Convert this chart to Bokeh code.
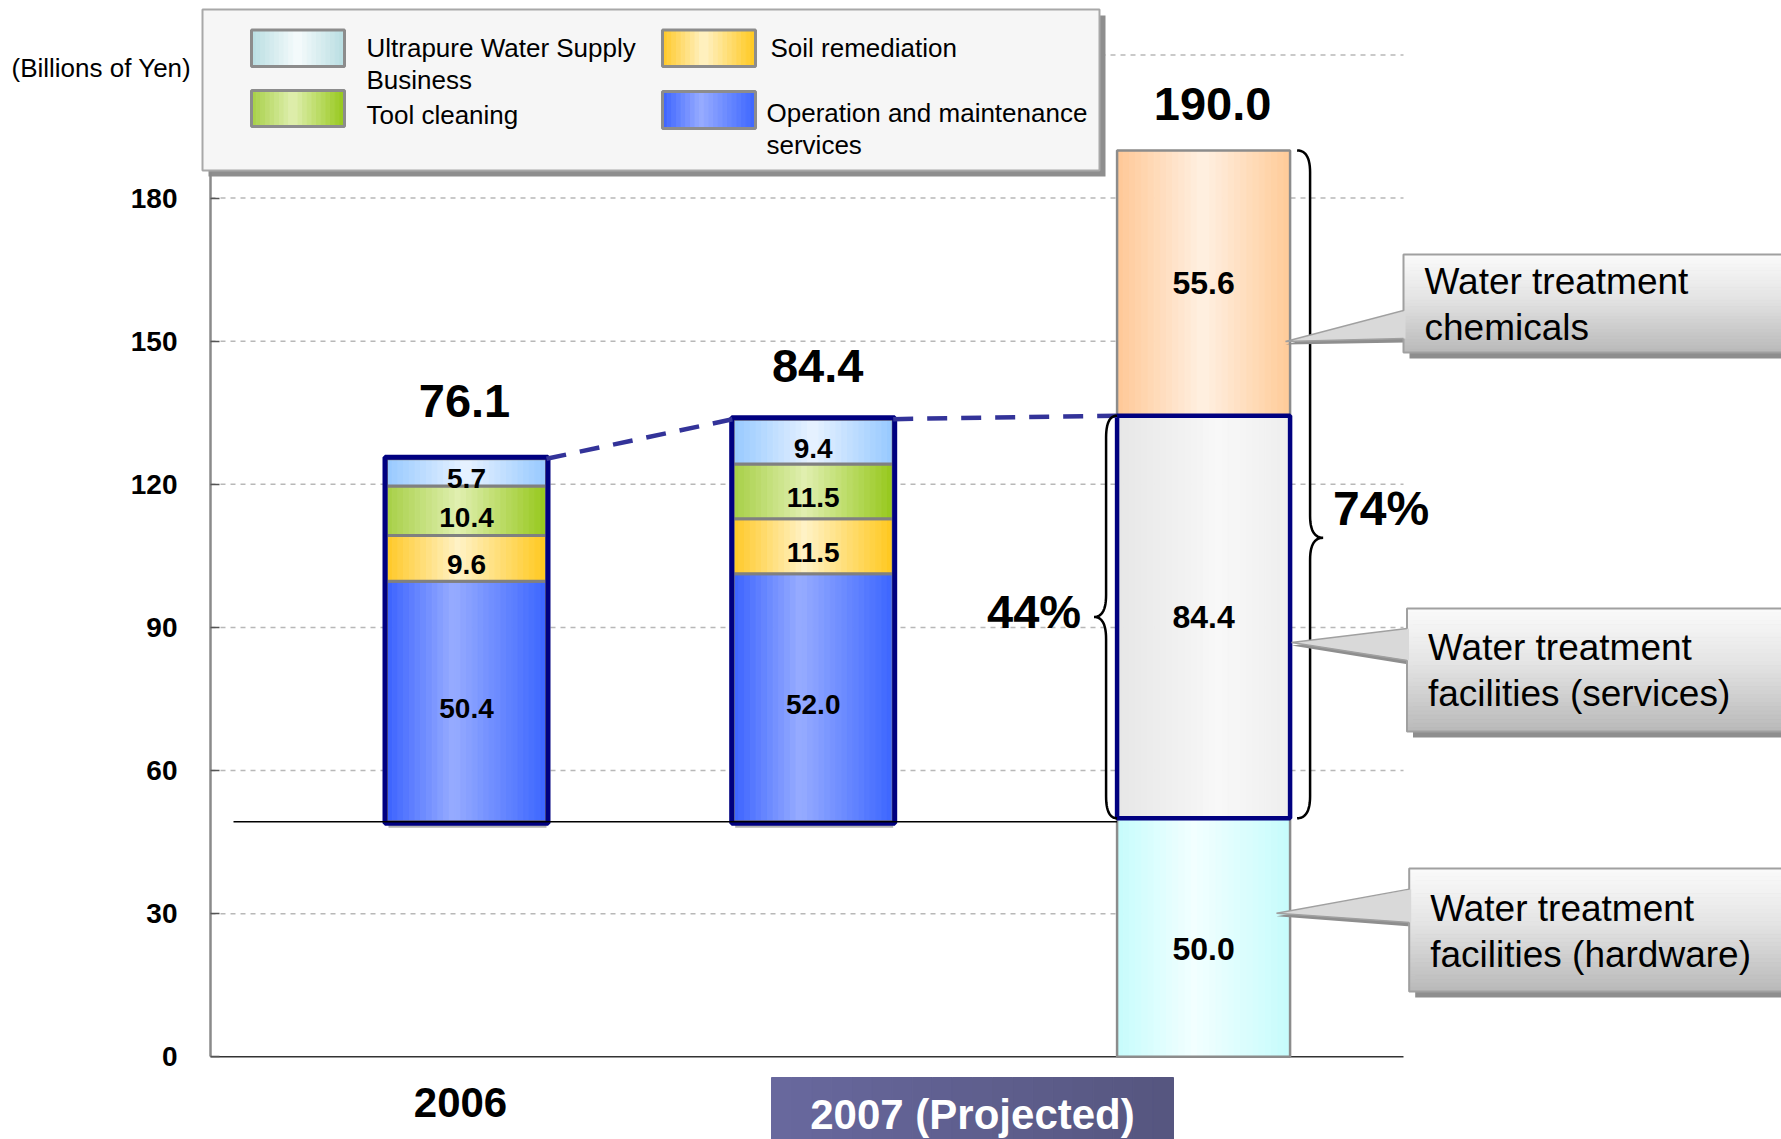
import numpy as np
from bokeh.plotting import figure
from bokeh.models import Range1d, FixedTicker
from bokeh.core.properties import value
from bokeh.embed import file_html
from bokeh.resources import INLINE

# ---------------- data ----------------
YEARS = ["2006", "2007 (Projected)"]
OPERATION = [50.4, 52.0]   # Operation and maintenance services
SOIL = [9.6, 11.5]         # Soil remediation
TOOL = [10.4, 11.5]        # Tool cleaning
ULTRAPURE = [5.7, 9.4]     # Ultrapure Water Supply Business
PROJ_NAMES = ["Water treatment facilities (hardware)",
              "Water treatment facilities (services)",
              "Water treatment chemicals"]
PROJ_VALUES = [50.0, 84.4, 55.6]
Y_TICKS = [0, 30, 60, 90, 120, 150, 180]
GRID_VALUES = [30, 60, 90, 120, 150, 180, 210]
UNIT_TEXT = "(Billions of Yen)"
LEGEND_NAMES = ["Ultrapure Water Supply Business", "Tool cleaning",
                "Soil remediation", "Operation and maintenance services"]

# ---------------- layout (page pixels) ----------------
W, H = 1781, 1139
AXIS_PX = 210
PX_X1, PX_PER_X = 466.0, 346.7
PX_Y0, PX_PER_Y = 1056.3, 4.7706


def xd(px): return 1.0 + (px - PX_X1) / PX_PER_X
def yd(py): return (PX_Y0 - py) / PX_PER_Y
def dxd(px): return px / PX_PER_X
def dyd(px): return px / PX_PER_Y
def yp(y): return PX_Y0 - y * PX_PER_Y


BAR_X = [1.0, 2.0, 3.126]
LEFT_W = dxd(160)
PROJ_W = dxd(173)
GRID_RIGHT = xd(1403)
LEFT_DROP_PX = 3.5            # the 2006/2007 bars sit a hair below the hardware top
SEG_LABEL_DROP_PX = 6.5
TOTAL_OFFSET_PX = [(-2, 58), (4.5, 53), (9, 46)]
PROJ_LABEL_DROP_PX = [11, 0, 0]
FONT = value("Liberation Sans")

LEFT_STOPS = [
    [(0, "#3a62ff"), (0.42, "#97acff"), (1, "#3c66ff")],   # operation
    [(0, "#ffc825"), (0.45, "#fff2c6"), (1, "#ffc81e")],   # soil
    [(0, "#a6cf45"), (0.45, "#e0efb0"), (1, "#96c81c")],   # tool
    [(0, "#96c8ff"), (0.5, "#e8f3ff"), (1, "#96c8ff")],    # ultrapure
]
PROJ_STOPS = [
    [(0, "#c6fcfc"), (0.45, "#f2ffff"), (1, "#c6fcfc")],   # hardware
    [(0, "#e6e6e6"), (0.6, "#f8f8f8"), (1, "#eeeeee")],    # services
    [(0, "#ffc896"), (0.5, "#fff0e2"), (1, "#ffcb98")],    # chemicals
]
LEGEND_STOPS = [[(0, "#b8dde2"), (0.5, "#f6fcfc"), (1, "#b8dde2")],
                LEFT_STOPS[2], LEFT_STOPS[1], LEFT_STOPS[0]]


def h2r(h):
    h = h.lstrip("#")
    return np.array([int(h[i:i + 2], 16) for i in (0, 2, 4)], float)


def ramp(stops, n):
    pos = [s[0] for s in stops]
    cols = np.array([h2r(s[1]) for s in stops])
    out = []
    for k in range(n):
        u = (k + 0.5) / n
        c = [np.interp(u, pos, cols[:, j]) for j in range(3)]
        out.append("#%02x%02x%02x" % tuple(int(round(v)) for v in c))
    return out


p = figure(width=W, height=H, output_backend="svg", toolbar_location=None,
           x_range=Range1d(xd(0), xd(W)), y_range=Range1d(yd(H), yd(0)),
           x_axis_location=None, y_axis_location="left",
           min_border_left=0, min_border_right=0, min_border_top=0, min_border_bottom=0)
p.outline_line_color = None
p.grid.visible = False
p.background_fill_color = "white"
p.border_fill_color = "white"


def gradient_quads(rects, stops, n=28, vertical=False):
    cols = ramp(stops, n)
    L, R, B, T, C = [], [], [], [], []
    for (l, r, b, t) in rects:
        if vertical:
            e = np.linspace(t, b, n + 1)
            for k in range(n):
                L.append(l); R.append(r); T.append(e[k]); B.append(e[k + 1]); C.append(cols[k])
        else:
            e = np.linspace(l, r, n + 1)
            for k in range(n):
                L.append(e[k]); R.append(e[k + 1]); B.append(b); T.append(t); C.append(cols[k])
    p.quad(left=L, right=R, bottom=B, top=T, fill_color=C, line_color=C, line_width=1)


# ---- gridlines and base axis ----
p.segment(x0=[xd(AXIS_PX)] * len(GRID_VALUES), x1=[GRID_RIGHT] * len(GRID_VALUES),
          y0=GRID_VALUES, y1=GRID_VALUES, line_color="#b8b8b8", line_width=1.5, line_dash="5 5")
p.segment(x0=[xd(AXIS_PX)], x1=[GRID_RIGHT], y0=[0], y1=[0], line_color="#333333", line_width=1.5)

# ---- y axis (library axis pinned at the plot's left edge) ----
ax = p.yaxis[0]
ax.fixed_location = xd(AXIS_PX)
ax.ticker = FixedTicker(ticks=Y_TICKS)
ax.bounds = (0, yd(172))
ax.axis_line_color = "#8a8a8a"
ax.axis_line_width = 2.5
ax.major_tick_in = 9
ax.major_tick_out = 0
ax.major_tick_line_color = "#555555"
ax.major_tick_line_width = 1.5
ax.minor_tick_line_color = None
ax.major_label_text_font = "Liberation Sans"
ax.major_label_text_font_style = "bold"
ax.major_label_text_font_size = "28px"
ax.major_label_text_color = "black"
ax.major_label_standoff = 33

# ---- legend box ----
p.quad(left=[xd(202 + 6)], right=[xd(1099 + 6)], top=[yd(9 + 6)], bottom=[yd(170 + 6)],
       fill_color="#8e8e8e", line_color=None)
p.quad(left=[xd(202)], right=[xd(1099)], top=[yd(9)], bottom=[yd(170)],
       fill_color="#f6f6f6", line_color="#a8a8a8", line_width=2)
p.text(x=[xd(11)], y=[yd(67)], text=[UNIT_TEXT], text_font=FONT, text_font_size="26px",
       text_color="black", text_align="left", text_baseline="middle")

LEG_SWATCH = [(251, 344, 29.5, 66), (251, 344, 90, 126), (662, 755, 29.5, 66), (662, 755, 91, 128)]
LEG_TEXT_X = [366, 366, 770, 766]
LEG_TEXT_Y = [47.7, 114.7, 47.7, 112.4]
LEG_LINE_H = 31.8
for name, sw, stops, tx, ty in zip(LEGEND_NAMES, LEG_SWATCH, LEGEND_STOPS, LEG_TEXT_X, LEG_TEXT_Y):
    l, r, t, b = sw
    gradient_quads([(xd(l), xd(r), yd(b), yd(t))], stops, n=20)
    p.quad(left=[xd(l)], right=[xd(r)], top=[yd(t)], bottom=[yd(b)], fill_color=None,
           line_color="#8c8c8c", line_width=3)
    lines = name.rsplit(" ", 1) if len(name) > 22 else [name]
    p.text(x=[xd(tx)] * len(lines), y=[yd(ty + i * LEG_LINE_H) for i in range(len(lines))], text=lines,
           text_font=FONT, text_font_size="26px", text_color="black",
           text_align="left", text_baseline="middle")

# ---- 2006 / 2007 stacked bars (sit on top of the hardware base) ----
BASE = PROJ_VALUES[0] - dyd(LEFT_DROP_PX)
left_x = np.array(BAR_X[:2])
bottoms = np.full(2, BASE)
# soft shadow below the bars
p.quad(left=left_x - LEFT_W / 2 + dxd(2), right=left_x + LEFT_W / 2, bottom=bottoms - dyd(6),
       top=bottoms, fill_color="#b4b4b4", line_color=None)
label_x, label_y, label_t = [], [], []
for vals, stops in zip([OPERATION, SOIL, TOOL, ULTRAPURE], LEFT_STOPS):
    vals = np.array(vals)
    tops = bottoms + vals
    rects = [(x - LEFT_W / 2, x + LEFT_W / 2, b, t) for x, b, t in zip(left_x, bottoms, tops)]
    gradient_quads(rects, stops)
    p.quad(left=left_x - LEFT_W / 2, right=left_x + LEFT_W / 2, bottom=bottoms, top=tops,
           fill_color=None, line_color="#808080", line_width=3)
    label_x += list(left_x)
    label_y += list((bottoms + tops) / 2 - dyd(SEG_LABEL_DROP_PX))
    label_t += [f"{v:.1f}" for v in vals]
    bottoms = tops
left_tops = bottoms
p.quad(left=left_x - LEFT_W / 2 - dxd(1.5), right=left_x + LEFT_W / 2 + dxd(1.5),
       bottom=np.full(2, BASE) - dyd(1.5), top=left_tops + dyd(1.5),
       fill_color=None, line_color="#000080", line_width=5)
p.text(x=label_x, y=label_y, text=label_t, text_font=FONT, text_font_style="bold",
       text_font_size="28px", text_color="black", text_align="center", text_baseline="middle")

# ---- projected bar ----
px3 = BAR_X[2]
pv = np.array(PROJ_VALUES)
p_tops = np.cumsum(pv)
p_bots = p_tops - pv
for b, t, stops in zip(p_bots, p_tops, PROJ_STOPS):
    gradient_quads([(px3 - PROJ_W / 2, px3 + PROJ_W / 2, b, t)], stops)
p.quad(left=[px3 - PROJ_W / 2] * 3, right=[px3 + PROJ_W / 2] * 3, bottom=p_bots, top=p_tops,
       fill_color=None, line_color="#8c8c8c", line_width=2.5)
p.quad(left=[px3 - PROJ_W / 2], right=[px3 + PROJ_W / 2], bottom=[p_bots[1]], top=[p_tops[1]],
       fill_color=None, line_color="#000080", line_width=4.5)
p.text(x=[px3] * 3, y=[(b + t) / 2 - dyd(d) for b, t, d in zip(p_bots, p_tops, PROJ_LABEL_DROP_PX)],
       text=[f"{v:.1f}" for v in pv], text_font=FONT,
       text_font_style="bold", text_font_size="32px", text_color="black",
       text_align="center", text_baseline="middle")

# base line under the 2006/2007 bars
p.segment(x0=[xd(233)], x1=[px3 - PROJ_W / 2], y0=[BASE], y1=[BASE], line_color="black", line_width=1.5)

# totals
all_x = list(left_x) + [px3]
all_tops = list(left_tops) + [p_tops[-1]]
totals = list(left_tops - BASE) + [p_tops[-1]]
p.text(x=[x + dxd(o[0]) for x, o in zip(all_x, TOTAL_OFFSET_PX)],
       y=[t + dyd(o[1]) for t, o in zip(all_tops, TOTAL_OFFSET_PX)],
       text=[f"{v:.1f}" for v in totals], text_font=FONT,
       text_font_style="bold", text_font_size="47px", text_color="black",
       text_align="center", text_baseline="middle")

# dashed connector
p.segment(x0=[left_x[0] + LEFT_W / 2, left_x[1] + LEFT_W / 2], y0=[left_tops[0], left_tops[1]],
          x1=[left_x[1] - LEFT_W / 2, px3 - PROJ_W / 2], y1=[left_tops[1], p_tops[1]],
          line_color="#333399", line_width=4.5, line_dash="20 14")


# ---- braces ----
def qbez(p0, c, p1, n=14):
    t = np.linspace(0, 1, n)
    x = (1 - t) ** 2 * p0[0] + 2 * (1 - t) * t * c[0] + t ** 2 * p1[0]
    y = (1 - t) ** 2 * p0[1] + 2 * (1 - t) * t * c[1] + t ** 2 * p1[1]
    return list(x), list(y)


def brace(x_end, x_body, x_tip, y_lo, y_hi, y_tip, r):
    xs, ys = [], []
    for seg in [qbez((x_end, y_hi), (x_body, y_hi), (x_body, y_hi - r)),
                qbez((x_body, y_tip + r), (x_body, y_tip), (x_tip, y_tip)),
                qbez((x_tip, y_tip), (x_body, y_tip), (x_body, y_tip - r)),
                qbez((x_body, y_lo + r), (x_body, y_lo), (x_end, y_lo))]:
        xs += seg[0]; ys += seg[1]
    p.line(xs, ys, line_color="black", line_width=2.5)


right_edge = px3 + PROJ_W / 2
left_edge = px3 - PROJ_W / 2
hi_share = (p_tops[-1] - p_bots[1]) / p_tops[-1]
mid_share = pv[1] / p_tops[-1]
tip_r = p_bots[1] + 0.42 * (p_tops[-1] - p_bots[1])
brace(right_edge + dxd(7), right_edge + dxd(20), right_edge + dxd(33), p_bots[1], p_tops[-1], tip_r, dyd(22))
tip_l = (p_bots[1] + p_tops[1]) / 2
brace(left_edge, left_edge - dxd(11), left_edge - dxd(23), p_bots[1], p_tops[1], tip_l, dyd(22))
p.text(x=[right_edge + dxd(43)], y=[tip_r + dyd(29)], text=[f"{round(hi_share * 100)}%"], text_font=FONT,
       text_font_style="bold", text_font_size="48px", text_color="black",
       text_align="left", text_baseline="middle")
p.text(x=[left_edge - dxd(36)], y=[tip_l + dyd(5)], text=[f"{round(mid_share * 100)}%"], text_font=FONT,
       text_font_style="bold", text_font_size="47px", text_color="black",
       text_align="right", text_baseline="middle")

# ---- callouts ----
CALLOUT_LAYOUT = [
    dict(dy=-7.5, h=123, left=1408.7, tip_x=1276, tip_dy=-24.3, w0=-48.4, w1=-15.1),   # hardware
    dict(dy=53.0, h=123, left=1406.5, tip_x=1291, tip_dy=25.5, w0=11.5, w1=43.5),     # services
    dict(dy=20.5, h=98, left=1403.0, tip_x=1285, tip_dy=58.5, w0=27.5, w1=55.5),      # chemicals
]
BOX_STOPS = [(0, "#fbfbfb"), (0.45, "#e4e4e4"), (1, "#b9b9b9")]
for name, b, t, lay in zip(PROJ_NAMES, p_bots, p_tops, CALLOUT_LAYOUT):
    cy = yp((b + t) / 2) + lay["dy"]
    top_px, bot_px = cy - lay["h"] / 2, cy + lay["h"] / 2
    lx = lay["left"]
    p.quad(left=[xd(lx + 6)], right=[xd(W + 20)], top=[yd(top_px + 6)], bottom=[yd(bot_px + 6)],
           fill_color="#8e8e8e", line_color=None)
    wy0, wy1 = yp((b + t) / 2) + lay["w0"], yp((b + t) / 2) + lay["w1"]
    ty = yp((b + t) / 2) + lay["tip_dy"]
    p.patch(x=[xd(lx + 2), xd(lay["tip_x"]), xd(lx + 2)], y=[yd(wy0 + 4), yd(ty + 3), yd(wy1 + 4)],
            fill_color="#8e8e8e", line_color=None)
    gradient_quads([(xd(lx), xd(W + 20), yd(bot_px), yd(top_px))], BOX_STOPS, n=30, vertical=True)
    p.quad(left=[xd(lx)], right=[xd(W + 20)], top=[yd(top_px)], bottom=[yd(bot_px)],
           fill_color=None, line_color="#a0a0a0", line_width=2)
    p.patch(x=[xd(lx + 2), xd(lay["tip_x"]), xd(lx + 2)], y=[yd(wy0), yd(ty), yd(wy1)],
            fill_color="#d9d9d9", line_color=None)
    p.line(x=[xd(lx), xd(lay["tip_x"]), xd(lx)], y=[yd(wy0), yd(ty), yd(wy1)],
           line_color="#a0a0a0", line_width=1.5)
    words = name.split(" ", 2)
    lines = [" ".join(words[:2]), words[2]]
    p.text(x=[xd(lx + 21)] * 2, y=[yd(cy - 22), yd(cy + 24)], text=lines, text_font=FONT,
           text_font_size="37px", text_color="black", text_align="left", text_baseline="middle")

# ---- category labels ----
p.text(x=[left_x[0] - dxd(6)], y=[yd(1102)], text=[YEARS[0]], text_font=FONT, text_font_style="bold",
       text_font_size="42px", text_color="black", text_align="center", text_baseline="middle")
gradient_quads([(xd(771), xd(1173), yd(1150), yd(1077))], [(0, "#68689e"), (1, "#56567f")], n=20)
p.text(x=[xd(972)], y=[yd(1114)], text=[YEARS[1]], text_font=FONT, text_font_style="bold",
       text_font_size="42px", text_color="white", text_align="center", text_baseline="middle")

open("out.html", "w").write(file_html(p, INLINE))
